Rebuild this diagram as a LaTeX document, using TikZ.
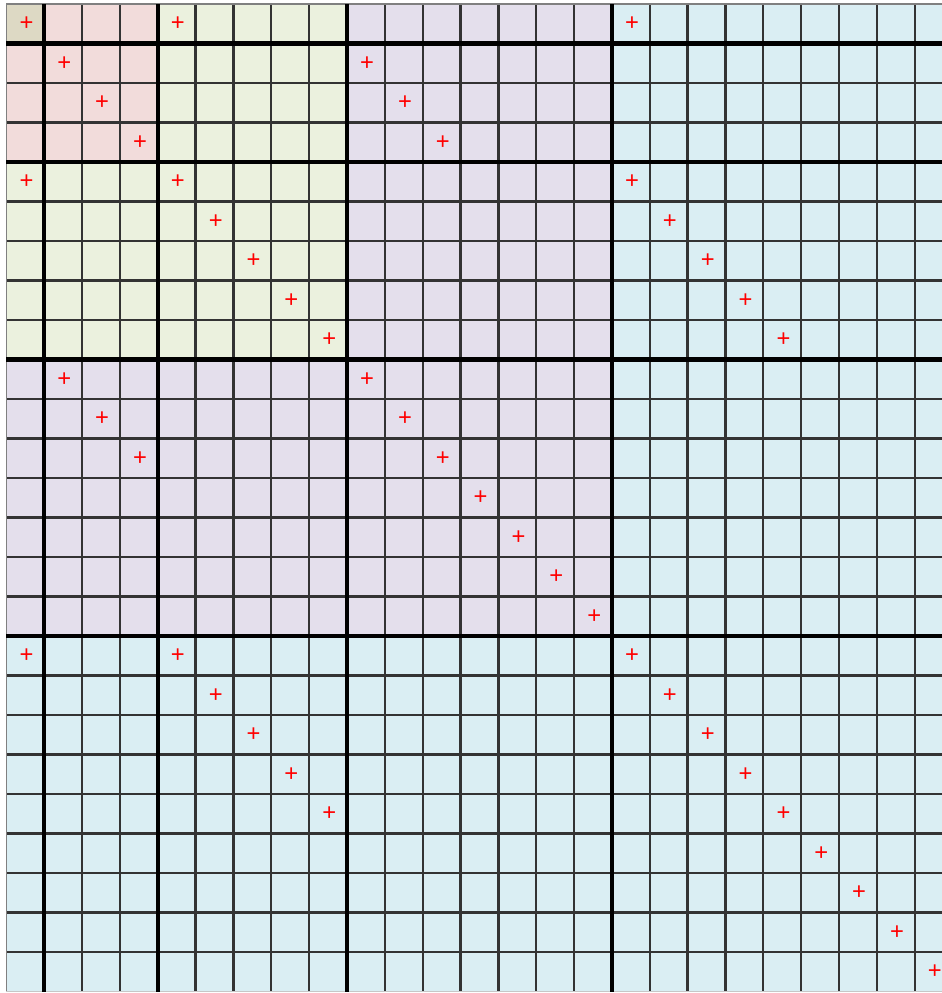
\documentclass[tikz,border=0pt]{standalone}
\usepackage{fontspec}
\setmainfont{Liberation Sans}
\definecolor{cellTan}{HTML}{DDD9C4}
\definecolor{cellPink}{HTML}{F2DCDB}
\definecolor{cellGreen}{HTML}{EBF1DE}
\definecolor{cellPurple}{HTML}{E4DFEC}
\definecolor{cellBlue}{HTML}{DAEEF3}
\tikzset{gridthin/.style={line width=1.3pt,black!80},
  blockline/.style={line width=2.3pt,black},
  pluscell/.style={text=red,font=\fontsize{13.5}{13.5}\selectfont,inner sep=0pt,xshift=0.7pt}}

\begin{document}
\begin{tikzpicture}[x=0.757cm,y=-0.79cm]
\useasboundingbox (-0.1664,-0.1013) rectangle (24.721,25.038);
% nested colour blocks, 25 x 25 down to 1 x 1
\fill[cellBlue] (0,0) rectangle (25,25);
\fill[cellPurple] (0,0) rectangle (16,16);
\fill[cellGreen] (0,0) rectangle (9,9);
\fill[cellPink] (0,0) rectangle (4,4);
\fill[cellTan] (0,0) rectangle (1,1);
\foreach \i in {1,...,24}{\draw[gridthin] (\i,0)--(\i,25);\draw[gridthin] (0,\i)--(25,\i);}
\draw[line width=0.9pt,black!50] (0,25)--(0,0)--(25,0);
\draw[line width=0.8pt,black!22] (0,25)--(25,25);
\foreach \k in {1,4,9,16}{\draw[blockline] (\k,0)--(\k,25);\draw[blockline] (0,\k)--(25,\k);}
% diagonals of the non-zero blocks
\foreach \ra/\ca/\n in {0/0/1,0/4/1,0/16/1,1/1/3,1/9/3,4/0/1,4/4/5,4/16/5,9/1/3,9/9/7,16/0/1,16/4/5,16/16/9}{
  \foreach \t in {1,...,\n}{\node[pluscell] (p-\ra-\ca-\t) at (\ca+\t-0.5,\ra+\t-0.5) {+};}}
\end{tikzpicture}
\end{document}
